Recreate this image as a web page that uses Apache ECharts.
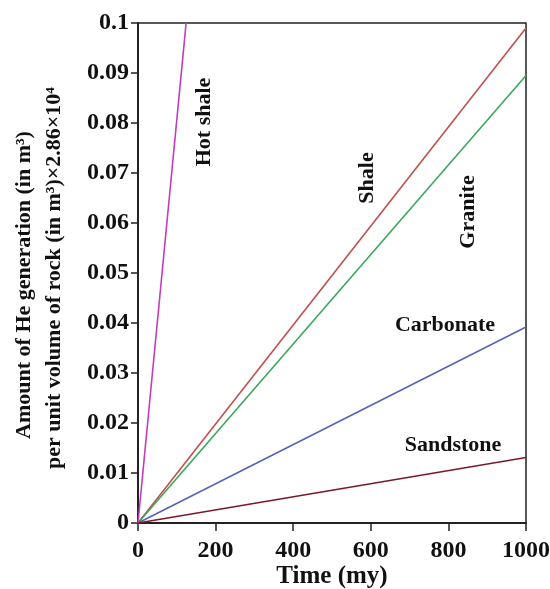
<!DOCTYPE html>
<html lang="en">
<head>
  <meta charset="UTF-8">
  <title>He generation</title>
  <style>
    html, body, #chart { margin: 0; padding: 0; width: 100%; height: 100%; background: #fff; }
  </style>
</head>
<body>
<div id="chart"></div>
<script src="https://cdn.jsdelivr.net/npm/echarts@6/dist/echarts.min.js"></script>
<script>
  // time (my) end points for each rock type, helium amount at that time
  var rockNames = ['Hot shale', 'Shale', 'Granite', 'Carbonate', 'Sandstone'];
  var endTime = [124, 1000, 1000, 1000, 1000];
  var endValue = [0.1, 0.099, 0.0895, 0.0392, 0.0131];
  var lineColors = ['#c23cc0', '#c0504d', '#3aa85a', '#5565b5', '#7a1a28'];

  var font = '"Liberation Serif", "Times New Roman", serif';
  var chart = echarts.init(document.getElementById('chart'));

  var series = rockNames.map(function (name, i) {
    return {
      name: name,
      type: 'line',
      data: [[0, 0], [endTime[i], endValue[i]]],
      symbol: 'none',
      lineStyle: { color: lineColors[i], width: 1.6 },
      clip: true
    };
  });

  function label(text, x, y, rot) {
    return {
      type: 'text', x: x, y: y, rotation: rot || 0,
      style: { text: text, font: 'bold 22px ' + font, fill: '#111', align: 'center', verticalAlign: 'middle' }
    };
  }

  chart.setOption({
    animation: false,
    grid: {
      left: 138, right: 24, top: 23, bottom: 66,
      containLabel: false, outerBoundsMode: 'none',
      show: true, borderColor: '#222', borderWidth: 1.5
    },
    xAxis: {
      type: 'value', min: 0, max: 1000, interval: 200,
      name: 'Time (my)', nameLocation: 'middle', nameGap: 41, nameMoveOverlap: false,
      nameTextStyle: { fontFamily: font, fontWeight: 'bold', fontSize: 25, color: '#111' },
      axisLine: { show: true, onZero: false, lineStyle: { color: '#222', width: 2 } },
      axisTick: { show: true, length: 8, lineStyle: { color: '#222', width: 1.5 } },
      axisLabel: {
        fontFamily: font, fontWeight: 'bold', fontSize: 24, color: '#111', margin: 16,
        formatter: function (v) { return String(v); }
      },
      splitLine: { show: false }
    },
    yAxis: {
      type: 'value', min: 0, max: 0.1, interval: 0.01,
      axisLine: { show: true, onZero: false, lineStyle: { color: '#222', width: 2 } },
      axisTick: { show: true, length: 7, lineStyle: { color: '#222', width: 1.5 } },
      axisLabel: {
        fontFamily: font, fontWeight: 'bold', fontSize: 24, color: '#111', margin: 9,
        formatter: function (v) { return v === 0 ? '0' : String(+v.toFixed(2)); }
      },
      splitLine: { show: false }
    },
    series: series,
    graphic: [
      label('Amount of He generation (in m\u00b3)', 24, 285, Math.PI / 2),
      label('per unit volume of rock (in m\u00b3)\u00d72.86\u00d710\u2074', 54, 278, Math.PI / 2),
      label('Hot shale', 204, 122, Math.PI / 2),
      label('Shale', 367, 178, Math.PI / 2),
      label('Granite', 468, 212, Math.PI / 2),
      label('Carbonate', 445, 325),
      label('Sandstone', 453, 445)
    ]
  });
</script>
</body>
</html>
